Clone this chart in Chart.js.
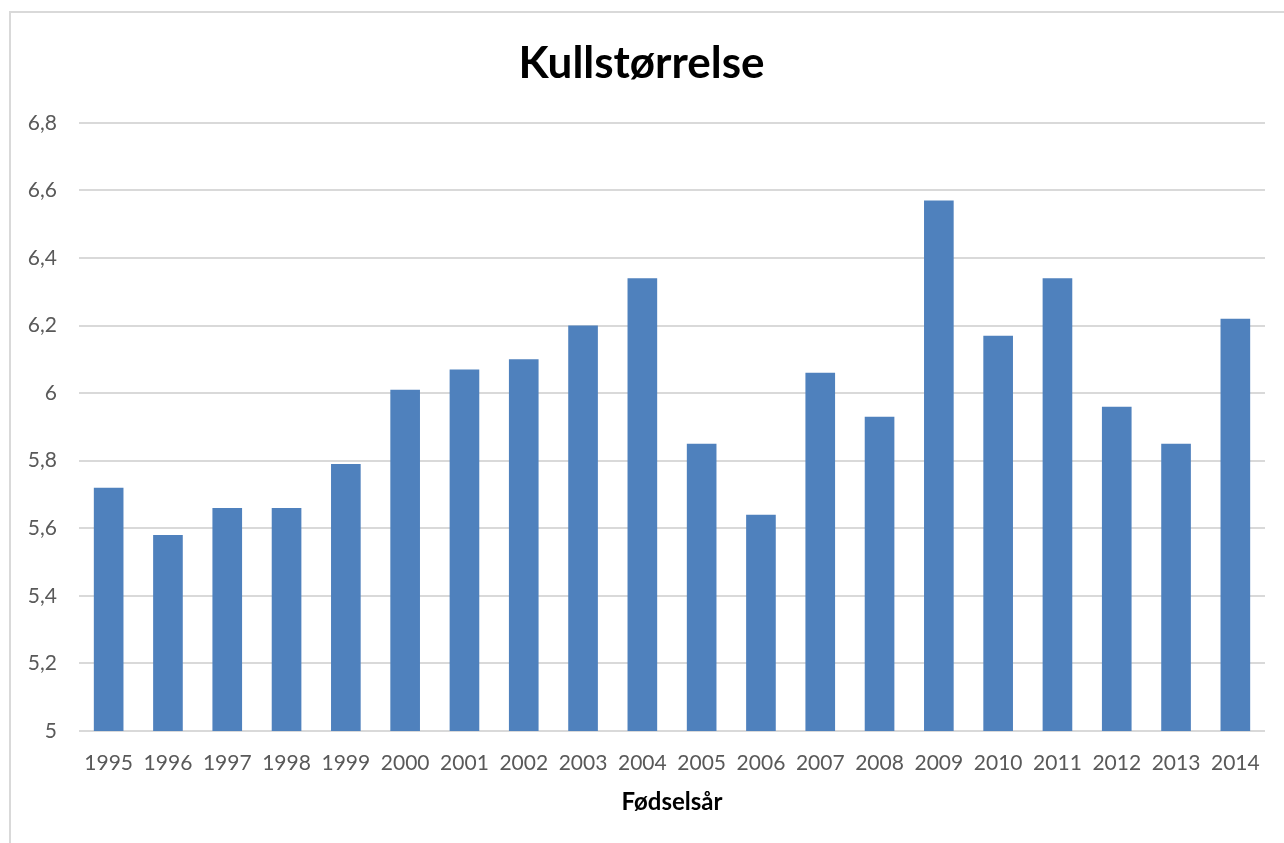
<!DOCTYPE html>
<html>
<head>
<meta charset="utf-8">
<script src="https://cdn.jsdelivr.net/npm/chart.js@4"></script>
<style>
  html, body { margin: 0; padding: 0; background: #fff; }
  #wrap { position: relative; width: 1284px; height: 843px; }
  #frame { position: absolute; left: 9px; top: 11px; right: -10px; bottom: -10px;
           border-left: 2px solid #d9d9d9; border-top: 2px solid #d9d9d9; }
  canvas { position: absolute; left: 0; top: 0; }
</style>
</head>
<body>
<div id="wrap">
  <div id="frame"></div>
  <canvas id="mainChart" width="1284" height="843"></canvas>
</div>
<script>
// Kullstørrelse per fødselsår
const years = ['1995', '1996', '1997', '1998', '1999', '2000', '2001', '2002', '2003', '2004',
               '2005', '2006', '2007', '2008', '2009', '2010', '2011', '2012', '2013', '2014'];
const litterSize = [5.72, 5.58, 5.66, 5.66, 5.79, 6.01, 6.07, 6.10, 6.20, 6.34,
                    5.85, 5.64, 6.06, 5.93, 6.57, 6.17, 6.34, 5.96, 5.85, 6.22];
const yMin = 5;
const yMax = 6.8;
const yStep = 0.2;

const FONT = 'Lato, "Open Sans", sans-serif';

const ctx = document.getElementById('mainChart').getContext('2d');
new Chart(ctx, {
  type: 'bar',
  data: {
    labels: years,
    datasets: [{
      label: 'Kullstørrelse',
      data: litterSize,
      backgroundColor: '#4f81bd',
      barPercentage: 0.5,
      categoryPercentage: 1.0
    }]
  },
  options: {
    responsive: false,
    animation: false,
    layout: { padding: { left: 18, right: 19, top: 0, bottom: 26 } },
    plugins: {
      legend: { display: false },
      tooltip: { enabled: false },
      title: {
        display: true,
        text: 'Kullstørrelse',
        color: '#000',
        font: { family: FONT, size: 44, weight: 'bold', lineHeight: 1.2 },
        padding: { top: 37, bottom: 33 }
      }
    },
    scales: {
      x: {
        afterFit: function (scale) { scale.height = 86; },
        grid: { display: false, drawTicks: false },
        border: { display: false },
        ticks: { color: '#595959', font: { family: FONT, size: 21 }, padding: 20, maxRotation: 0 },
        title: {
          display: true,
          text: 'Fødselsår',
          color: '#000',
          font: { family: FONT, size: 24, weight: 'bold', lineHeight: 1.2 },
          padding: { top: 10, bottom: 0 }
        }
      },
      y: {
        min: yMin,
        max: yMax,
        afterFit: function (scale) { scale.width = 61; },
        grid: { color: '#d9d9d9', lineWidth: 2, drawTicks: false },
        border: { display: false },
        ticks: {
          stepSize: yStep,
          color: '#595959',
          font: { family: FONT, size: 21 },
          padding: 22,
          callback: function (v) { return String(Number(v.toFixed(1))).replace('.', ','); }
        }
      }
    }
  }
});
</script>
</body>
</html>
